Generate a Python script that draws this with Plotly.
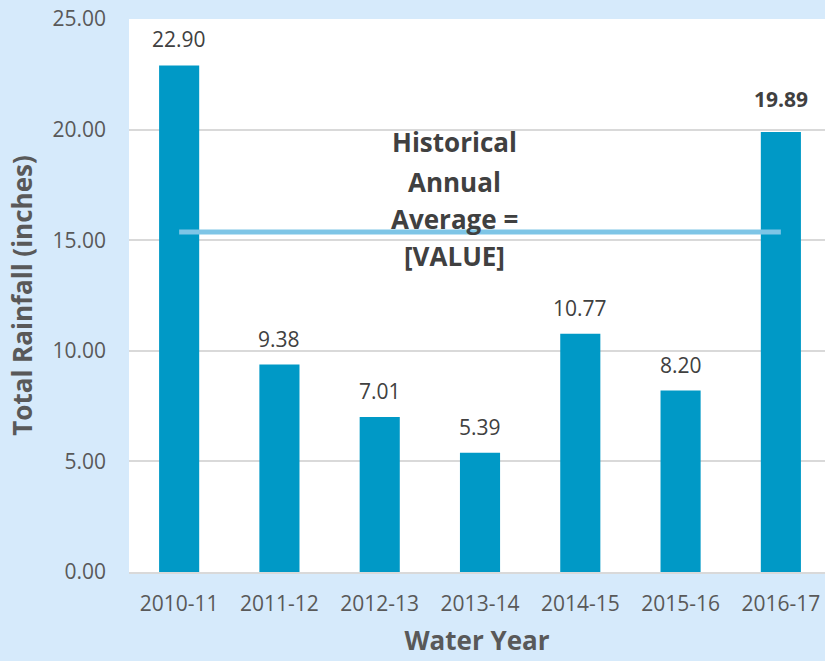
import plotly.graph_objects as go

water_years = ["2010-11", "2011-12", "2012-13", "2013-14", "2014-15", "2015-16", "2016-17"]
rainfall = [22.90, 9.38, 7.01, 5.39, 10.77, 8.20, 19.89]
label_bold = [False, False, False, False, False, False, True]
historical_avg = 15.37
avg_text_lines = ["Historical", "Annual", "Average =", "[VALUE]"]
y_ticks = [0, 5, 10, 15, 20, 25]

BAR = "#0099C6"
AVG = "#7EC5E6"
BG = "#D6EAFB"
TXT = "#595959"
DARK = "#404040"
FONT = "Open Sans"

fig = go.Figure()
fig.add_trace(go.Bar(x=water_years, y=rainfall, marker=dict(color=BAR, line=dict(width=0)),
                     hoverinfo="skip", showlegend=False))
fig.add_trace(go.Scatter(x=water_years, y=[historical_avg] * len(water_years), mode="lines",
                         line=dict(color=AVG, width=5), hoverinfo="skip", showlegend=False))

annotations = []
for yr, v, b in zip(water_years, rainfall, label_bold):
    annotations.append(dict(
        x=yr, y=v, xref="x", yref="y", text=(f"<b>{v:.2f}</b>" if b else f"{v:.2f}"),
        showarrow=False, yanchor="bottom", yshift=(17 if b else 10),
        font=dict(family=FONT, size=21, color=DARK)))

shifts = [90, 50, 13, -24]
for line, s in zip(avg_text_lines, shifts):
    annotations.append(dict(
        x=0.468, xref="paper", y=historical_avg, yref="y", text=f"<b>{line}</b>",
        showarrow=False, yanchor="middle", yshift=s,
        font=dict(family=FONT, size=26, color=DARK)))

fig.update_layout(
    width=825, height=661,
    margin=dict(l=129, r=0, t=19, b=89),
    paper_bgcolor=BG, plot_bgcolor="white",
    bargap=0.6,
    font=dict(family=FONT, color=TXT),
    annotations=annotations,
    xaxis=dict(type="category", range=[-0.5, 6.44], showgrid=False, showline=True,
               linecolor="#D9D9D9", linewidth=2,
               ticks="", tickfont=dict(size=21, color=TXT), ticklabelstandoff=12,
               title=dict(text="<b>Water Year</b>", font=dict(size=26, color=TXT), standoff=16)),
    yaxis=dict(range=[0, 25], tickvals=y_ticks, tickformat=".2f", showgrid=True,
               gridcolor="#D9D9D9", gridwidth=2, zeroline=False, showline=False, ticks="",
               tickfont=dict(size=21, color=TXT), ticklabelstandoff=22,
               title=dict(text="<b>Total Rainfall (inches)</b>", font=dict(size=26, color=TXT), standoff=12)),
)

fig.write_html("out.html", config={"displayModeBar": False},
               post_script="document.body.style.margin='0';")
